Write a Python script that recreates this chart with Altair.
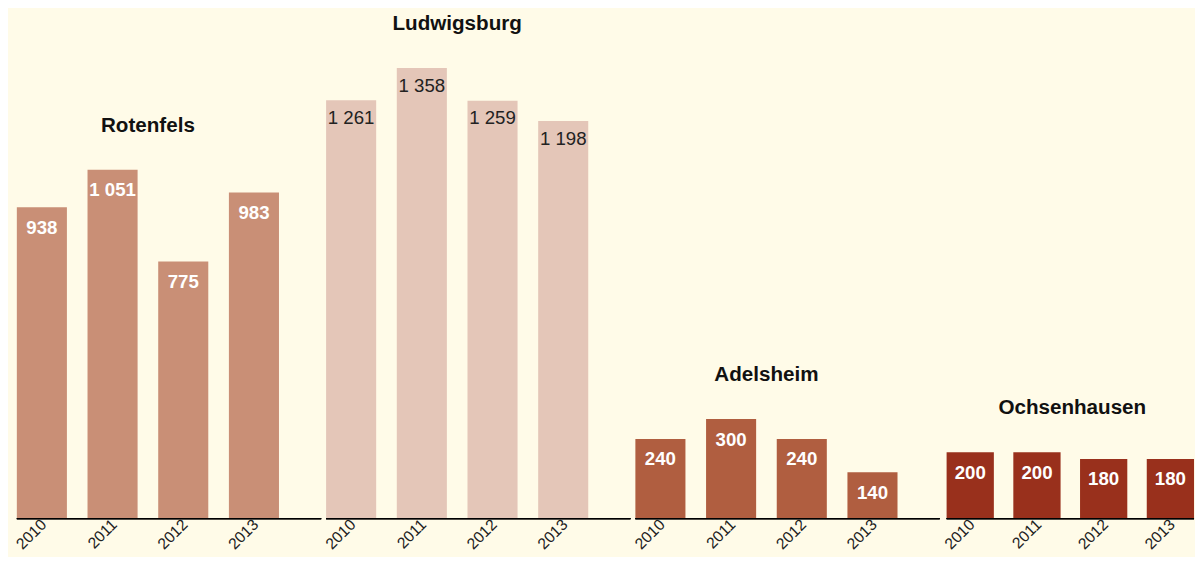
import altair as alt
import pandas as pd

groups = ["Rotenfels", "Ludwigsburg", "Adelsheim", "Ochsenhausen"]
years = ["2010", "2011", "2012", "2013"]
rotenfels = [938, 1051, 775, 983]
ludwigsburg = [1261, 1358, 1259, 1198]
adelsheim = [240, 300, 240, 140]
ochsenhausen = [200, 200, 180, 180]
bar_colors = ["#C98F76", "#E4C6B8", "#B05E40", "#99301C"]
label_colors = ["white", "#222222", "white", "white"]
label_weights = ["bold", "normal", "bold", "bold"]
panel_widths = [310, 310, 310, 252]
outer_pads = [0.2986, 0.2986, 0.2986, 0.0]

FONT = "Liberation Sans"

panels = []
for g, vals, c, lc, lw, pw, po in zip(groups, [rotenfels, ludwigsburg, adelsheim, ochsenhausen],
                                       bar_colors, label_colors, label_weights,
                                       panel_widths, outer_pads):
    d = pd.DataFrame({
        "group": g,
        "year": years,
        "value": vals,
        "label": [f"{v:,}".replace(",", " ") for v in vals],
    })
    x = alt.X("year:N", sort=years,
              scale=alt.Scale(paddingInner=0.2917, paddingOuter=po, align=0),
              axis=alt.Axis(title=None, labelAngle=315, ticks=False, grid=False,
                            domain=False,
                            labelFontSize=16, labelFont=FONT, labelColor="#222222",
                            labelAlign="right", labelBaseline="middle",
                            labelPadding=3, labelOffset=2))
    y = alt.Y("value:Q", scale=alt.Scale(domain=[0, 1503], nice=False), axis=None)
    base = alt.Chart(d)
    bars = base.mark_bar(color=c).encode(x=x, y=y)
    labels = base.mark_text(
        baseline="middle", dy=21 if lw == "bold" else 18, color=lc,
        fontWeight=lw, fontSize=19, font=FONT
    ).encode(x=x, y=y, text="label:N")
    title = base.transform_aggregate(
        m="max(value)", groupby=["group"]
    ).mark_text(
        baseline="middle", dy=-45, dx=36, fontWeight="bold", fontSize=21,
        color="#111111", font=FONT
    ).encode(x=alt.X(datum="2011"), y=alt.Y("m:Q"), text="group:N")
    baseline_rule = base.mark_rule(color="#000000", strokeWidth=1.3).encode(y=alt.datum(0))
    panels.append(alt.layer(bars, labels, title, baseline_rule).properties(width=pw, height=508))

chart = alt.hconcat(*panels, spacing=0).resolve_scale(
    x="independent", y="shared"
).properties(
    background="#FFFBE8",
    padding={"left": 5, "top": 0, "right": 0, "bottom": 0},
).configure_view(stroke=None)

chart.save("out.html", embed_options={"renderer": "svg", "actions": False})
